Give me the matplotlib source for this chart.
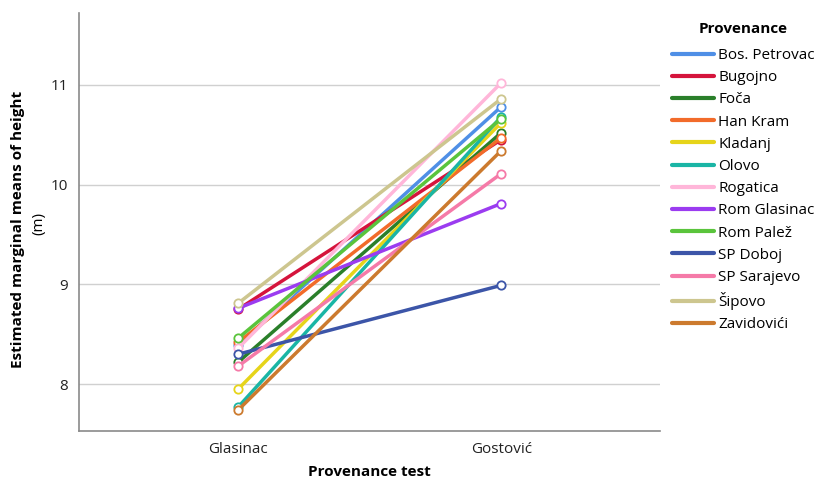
import matplotlib
matplotlib.use('Agg')
import matplotlib.pyplot as plt

plt.rcParams['font.family'] = ['Open Sans', 'DejaVu Sans']

tests = ['Glasinac', 'Gostović']
provenances = ['Bos. Petrovac', 'Bugojno', 'Foča', 'Han Kram', 'Kladanj', 'Olovo',
               'Rogatica', 'Rom Glasinac', 'Rom Palež', 'SP Doboj', 'SP Sarajevo',
               'Šipovo', 'Zavidovići']
glasinac = [8.39, 8.75, 8.22, 8.42, 7.95, 7.77, 8.36, 8.76, 8.46, 8.30, 8.18, 8.81, 7.74]
gostovic = [10.78, 10.45, 10.52, 10.47, 10.62, 10.68, 11.02, 9.81, 10.66, 8.99, 10.11, 10.86, 10.34]
colors = ['#4f8fe6', '#d5143c', '#2a7f2a', '#f26b2a', '#e6d41a', '#1ab5a5',
          '#ffb6d9', '#9b3cf0', '#5ac43c', '#3c55a8', '#f57aa8', '#cdc68f', '#cc7a2e']

fig = plt.figure(figsize=(8.2, 4.8), dpi=100)
ax = fig.add_axes([0.0963, 0.102, 0.709, 0.871])

for name, g1, g2, c in zip(provenances, glasinac, gostovic, colors):
    ax.plot([0, 1], [g1, g2], color=c, lw=2.5, label=name,
            marker='o', ms=6, mfc='white', mec=c, mew=1.3, solid_capstyle='round')

ax.set_xlim(-0.605, 1.605)
ax.set_ylim(7.53, 11.72)
ax.set_xticks([0, 1])
ax.set_xticklabels(tests)
ax.set_yticks([8, 9, 10, 11])
ax.tick_params(length=0, labelsize=11, colors='#222222', pad=8)
ax.yaxis.grid(True, color='#d0d0d0', lw=1)
ax.set_axisbelow(True)
for s in ['top', 'right']:
    ax.spines[s].set_visible(False)
for s in ['left', 'bottom']:
    ax.spines[s].set_color('#8a8a8a')
    ax.spines[s].set_linewidth(1.2)

ax.set_xlabel('Provenance test', fontsize=11, fontweight='bold', labelpad=6)
fig.text(0.022, 0.523, 'Estimated marginal means of height', rotation=90,
         fontsize=11, fontweight='bold', ha='center', va='center')
fig.text(0.047, 0.535, '(m)', rotation=90, fontsize=11, ha='center', va='center')

handles, labels = ax.get_legend_handles_labels()
leg = fig.legend(handles, labels, loc='upper left', bbox_to_anchor=(0.819, 0.955),
                 frameon=False, title='Provenance', fontsize=11, handlelength=2.75,
                 handletextpad=0.3, labelspacing=0.47, borderpad=0, borderaxespad=0)
for h in leg.get_lines():
    h.set_marker('')
    h.set_linewidth(3)
leg.get_title().set_fontweight('bold')
leg.get_title().set_fontsize(11)
leg._legend_box.sep = 9

fig.savefig('out.png', dpi=100)
